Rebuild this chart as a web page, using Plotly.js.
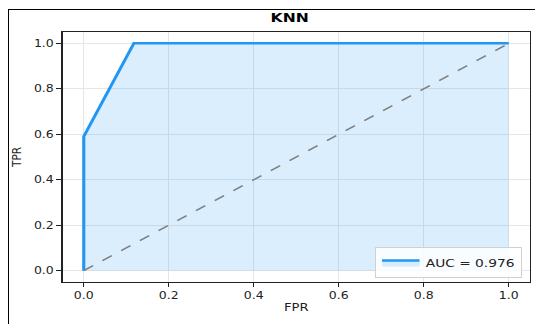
<!DOCTYPE html>
<html>
<head>
<meta charset="utf-8">
<script src="https://cdn.plot.ly/plotly-3.0.1.min.js"></script>
<style>
html,body{margin:0;padding:0;background:#fff;overflow:hidden;}
#wrap{position:relative;width:535px;height:324px;overflow:hidden;}
#frame{position:absolute;left:8px;top:9px;width:527px;height:315px;border-left:1px solid #000;border-top:1px solid #000;pointer-events:none;z-index:5;}
#chart{position:absolute;left:0;top:0;width:428px;height:324px;transform:scaleX(1.25);transform-origin:0 0;}
</style>
</head>
<body>
<div id="wrap"><div id="chart"></div><div id="frame"></div></div>
<script>
const fpr = [0, 0, 0.118, 1];
const tpr = [0, 0.59, 1, 1];
const diagX = [0, 1];
const diagY = [0, 1];
const aucLabel = "AUC = 0.976";
const titleText = "KNN";
const tickVals = [0, 0.2, 0.4, 0.6, 0.8, 1.0];
const tickText = ["0.0", "0.2", "0.4", "0.6", "0.8", "1.0"];

const traces = [
  {x: fpr, y: tpr, type: 'scatter', mode: 'lines', fill: 'tozeroy',
   fillcolor: 'rgba(33,150,243,0.16)', line: {color: '#2196F3', width: 2.5},
   name: aucLabel, showlegend: true},
  {x: diagX, y: diagY, type: 'scatter', mode: 'lines',
   line: {color: 'gray', width: 1.4, dash: 'dash'}, showlegend: false, hoverinfo: 'skip'}
];

const axisCommon = {
  showline: true, linecolor: '#222', linewidth: 1, mirror: true,
  showgrid: true, gridcolor: '#e6e6e6', gridwidth: 1, zeroline: false,
  ticks: 'outside', ticklen: 4, tickwidth: 1, tickcolor: '#222',
  tickvals: tickVals, ticktext: tickText,
  tickfont: {family: 'DejaVu Sans', size: 10, color: '#222'}
};

const layout = {
  width: 428, height: 324,
  margin: {l: 50.4, r: 4, t: 32, b: 42},
  paper_bgcolor: '#fff', plot_bgcolor: '#fff',
  title: {text: '<b>' + titleText + '</b>', x: 0.486, xref: 'paper', xanchor: 'center',
          y: 1, yref: 'container', yanchor: 'top', pad: {t: 13},
          font: {family: 'DejaVu Sans', size: 12.5, color: '#000'}},
  xaxis: Object.assign({}, axisCommon, {range: [-0.05, 1.05],
          title: {text: 'FPR', font: {family: 'DejaVu Sans', size: 10.5, color: '#222'}, standoff: 3}}),
  yaxis: Object.assign({}, axisCommon, {range: [-0.05, 1.05],
          title: {text: 'TPR', font: {family: 'DejaVu Sans', size: 10.5, color: '#222'}, standoff: 7}}),
  legend: {x: 0.983, y: 0.016, xanchor: 'right', yanchor: 'bottom',
           bgcolor: 'rgba(255,255,255,0.85)', bordercolor: '#d0d0d0', borderwidth: 1,
           font: {family: 'DejaVu Sans', size: 11, color: '#222'},
           tracegroupgap: 0},
  showlegend: true
};

Plotly.newPlot('chart', traces, layout, {displayModeBar: false, staticPlot: true});
</script>
</body>
</html>
